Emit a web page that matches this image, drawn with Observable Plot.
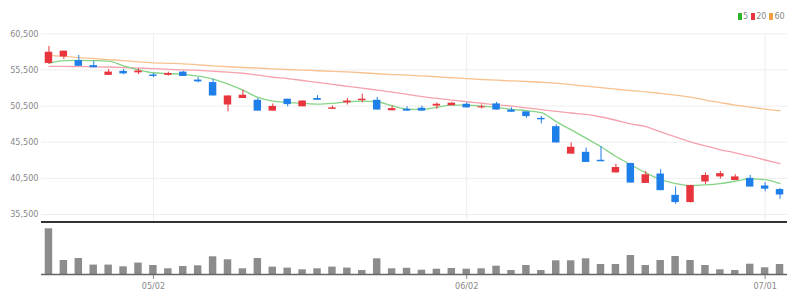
<!DOCTYPE html>
<html><head><meta charset="utf-8">
<script src="https://cdn.jsdelivr.net/npm/d3@7"></script>
<script src="https://cdn.jsdelivr.net/npm/@observablehq/plot@0.6"></script>
<style>
body{margin:0;background:#fff;}
#wrap{position:relative;width:803px;height:308px;font-family:"Liberation Sans Narrow","DejaVu Sans Condensed","Liberation Sans",sans-serif;}
#wrap svg{display:block;}
#legend{position:absolute;top:12px;left:738px;font-size:9px;line-height:9px;color:#888;display:flex;align-items:center;}
#legend .sw{display:inline-block;width:4px;height:7px;margin-right:1px;}
#legend .lb{margin-right:3px;}
#sep{position:absolute;left:41px;top:221px;width:746px;height:1.5px;background:#333;}
</style></head><body>
<div id="wrap"><div id="top"></div><div id="bottom"></div><div id="sep"></div><div id="legend"></div></div>
<script>
const dates = ["2022-04-21","2022-04-22","2022-04-25","2022-04-26","2022-04-27","2022-04-28","2022-04-29",
"2022-05-02","2022-05-03","2022-05-04","2022-05-06","2022-05-09","2022-05-10","2022-05-11","2022-05-12","2022-05-13",
"2022-05-16","2022-05-17","2022-05-18","2022-05-19","2022-05-20","2022-05-23","2022-05-24","2022-05-25","2022-05-26","2022-05-27",
"2022-05-30","2022-05-31","2022-06-02","2022-06-03","2022-06-07","2022-06-08","2022-06-09","2022-06-10","2022-06-13","2022-06-14",
"2022-06-15","2022-06-16","2022-06-17","2022-06-20","2022-06-21","2022-06-22","2022-06-23","2022-06-24","2022-06-27","2022-06-28",
"2022-06-29","2022-06-30","2022-07-01","2022-07-04"];
const opens  = [56400,57300,56800,56100,54750,55300,55100,54800,54750,55200,54100,53750,50650,51550,51300,49800,51450,50400,51550,50050,50950,51250,51300,49850,50050,50200,50500,50550,50750,50250,50800,49950,49700,48800,47650,43850,44100,43000,41250,42550,39800,41100,38150,37150,40000,40700,40200,40500,39450,38950];
const highs  = [58750,58100,57500,56700,55550,55550,55650,55000,55200,55300,54450,54200,51900,52700,51550,50800,51450,51200,51950,50500,51550,52150,51700,50500,50400,50500,50950,50950,50950,50650,51000,50250,49700,49050,47900,45400,44700,44900,42450,42600,41450,41700,39300,39550,41250,41450,41000,40900,39900,39100];
const lows   = [56300,56950,56000,55800,54750,54850,54850,54450,54650,54600,53700,51900,49700,51550,49800,49800,50400,50400,51300,50050,50650,50950,49950,49850,49800,49800,50050,50550,50250,50100,49950,49650,48800,48050,45400,43850,42700,42800,41250,39850,39800,38800,36900,37100,39650,40400,40200,39300,38650,37600];
const closes = [57950,58100,56000,55800,55200,54950,55350,54600,55000,54600,53850,51900,51900,52000,49800,50450,50700,51200,51300,50250,51200,51450,49950,50150,49800,49800,50750,50900,50250,50400,49950,49650,49050,48600,45400,44800,42700,42800,42000,39850,41000,38800,37150,39500,40900,41150,40700,39300,39000,38200];
const volumes = [2285000,700000,800000,470000,470000,385000,570000,450000,285000,400000,435000,885000,735000,285000,800000,370000,320000,235000,285000,370000,320000,200000,785000,285000,310000,215000,265000,300000,265000,285000,415000,200000,450000,200000,685000,685000,785000,500000,500000,950000,450000,700000,900000,700000,450000,235000,200000,515000,335000,500000];
const ma5  = [56420,56790,56830,56790,56730,56070,55520,55110,55000,54900,54630,54220,53530,52700,51700,51190,51010,50880,50780,50880,51100,51190,51100,50550,50090,50050,50330,50640,50640,50500,50330,50050,49860,49580,48350,47200,46060,44870,43530,42390,41250,40330,39780,39500,39600,39780,40100,40430,40330,39780];
const ma20 = [56000,55990,55960,55940,55910,55840,55760,55690,55590,55510,55430,55320,55190,55040,54770,54490,54310,54040,53780,53500,53240,52980,52700,52430,52110,51810,51560,51330,51100,50890,50680,50500,50260,50000,49780,49540,49340,48990,48540,48030,47660,46930,46240,45550,45000,44450,44040,43560,43040,42530];
const ma60 = [57520,57380,57210,57080,56930,56790,56620,56490,56420,56350,56210,56070,55940,55840,55760,55660,55560,55480,55390,55300,55220,55110,54970,54860,54770,54670,54560,54420,54290,54180,54080,53980,53900,53800,53670,53460,53250,53050,52840,52640,52470,52250,52020,51740,51330,50990,50640,50370,50090,49860];
const priceTicks = [35500,40500,45500,50500,55500,60500];
const dateTicks = ["2022-05-02","2022-06-02","2022-07-01"];
const legendItems = [{label:"5",color:"#2cb52c"},{label:"20",color:"#e8343c"},{label:"60",color:"#f0a043"}];

const RED = "#e8353d", BLUE = "#1f7fe8";
const FONT = "'Liberation Sans Narrow','DejaVu Sans Condensed','Liberation Sans',sans-serif";
const rows = dates.map((d,i)=>({date:d,open:opens[i],high:highs[i],low:lows[i],close:closes[i],volume:volumes[i],ma5:ma5[i],ma20:ma20[i],ma60:ma60[i]}));
const up = rows.filter(r=>r.close>=r.open), down = rows.filter(r=>r.close<r.open);
const xBand = {type:"band", domain:dates, paddingInner:0.5, paddingOuter:0.25};
const fmtDate = d => d.slice(5,7)+"/"+d.slice(8,10);

const topPlot = Plot.plot({
  width:803, height:222, marginLeft:41, marginRight:16, marginTop:33, marginBottom:0,
  style:{fontFamily:FONT, fontSize:"9px", color:"#888", background:"transparent", overflow:"visible"},
  x:{...xBand, axis:null},
  y:{domain:[35500,60500], range:[214,33.3], ticks:priceTicks, tickFormat:d3.format(","), tickSize:0, tickPadding:3, label:null},
  marks:[
    Plot.ruleY(priceTicks,{stroke:"#eeeeee"}),
    Plot.ruleX(dateTicks,{stroke:"#eeeeee"}),
    Plot.line(rows,{x:"date",y:"ma60",stroke:"#f7c290",strokeWidth:1.3,curve:"monotone-x"}),
    Plot.line(rows,{x:"date",y:"ma20",stroke:"#f5a2ae",strokeWidth:1.3,curve:"monotone-x"}),
    Plot.line(rows,{x:"date",y:"ma5",stroke:"#86d486",strokeWidth:1.3,curve:"monotone-x"}),
    Plot.ruleX(up,{x:"date",y1:"low",y2:"high",stroke:RED,strokeWidth:1}),
    Plot.ruleX(down,{x:"date",y1:"low",y2:"high",stroke:BLUE,strokeWidth:1}),
    Plot.barY(up,{x:"date",y1:"open",y2:"close",fill:RED}),
    Plot.barY(down,{x:"date",y1:"open",y2:"close",fill:BLUE})
  ]
});
document.getElementById("top").appendChild(topPlot);

const bottomPlot = Plot.plot({
  width:803, height:86, marginLeft:41, marginRight:16, marginTop:0, marginBottom:34,
  style:{fontFamily:FONT, fontSize:"9px", color:"#888", background:"transparent", overflow:"visible"},
  x:{...xBand, ticks:dateTicks, tickFormat:fmtDate, tickSize:5, tickPadding:3, label:null},
  y:{domain:[0,2300000], range:[52,6], axis:null},
  marks:[
    Plot.barY(rows,{x:"date",y:"volume",fill:"#8c8c8c"}),
    Plot.ruleY([0],{stroke:"#666",strokeWidth:1.5})
  ]
});
document.getElementById("bottom").appendChild(bottomPlot);

const lg = document.getElementById("legend");
legendItems.forEach(it=>{
  const s=document.createElement("span"); s.className="sw"; s.style.background=it.color; lg.appendChild(s);
  const t=document.createElement("span"); t.className="lb"; t.textContent=it.label; lg.appendChild(t);
});
</script>
</body></html>
